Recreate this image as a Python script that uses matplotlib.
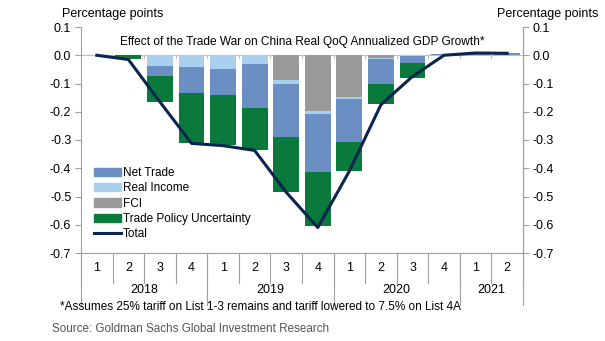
import numpy as np
import matplotlib
matplotlib.use("Agg")
import matplotlib.pyplot as plt
from matplotlib.patches import Patch
from matplotlib.lines import Line2D
import matplotlib.transforms as mtransforms

plt.rcParams['font.family'] = ['Liberation Sans', 'DejaVu Sans']

quarters = ["1", "2", "3", "4", "1", "2", "3", "4", "1", "2", "3", "4", "1", "2"]
years = ["2018", "2019", "2020", "2021"]
year_counts = [4, 4, 4, 2]

fci = [0, 0, 0, 0, 0, 0, -0.088, -0.198, -0.147, -0.008, 0, 0, 0, 0]
real_income = [0, 0, -0.038, -0.041, -0.047, -0.030, -0.012, -0.009, -0.008, -0.007, -0.004, 0, 0, 0]
net_trade = [0, 0, -0.037, -0.094, -0.092, -0.156, -0.189, -0.205, -0.151, -0.085, -0.022, 0.004, 0.008, 0.008]
tpu = [0, -0.014, -0.091, -0.174, -0.179, -0.150, -0.194, -0.194, -0.104, -0.074, -0.053, 0, 0, 0]
total = [0, -0.015, -0.165, -0.312, -0.320, -0.337, -0.485, -0.610, -0.410, -0.175, -0.075, 0.0, 0.008, 0.007]

c_net = "#6b8fc2"
c_ri = "#a9d0ee"
c_fci = "#9a9a9a"
c_tpu = "#0a7a3c"
c_tot = "#0c2450"

fig = plt.figure(figsize=(6.05, 3.41), dpi=100)
ax = fig.add_axes([81/605, 1-253/341, (523-81)/605, (253-27)/341])

x = np.arange(len(quarters))
pos_base = np.zeros(len(x))
neg_base = np.zeros(len(x))
series = [(fci, c_fci), (real_income, c_ri), (net_trade, c_net), (tpu, c_tpu)]
for vals, col in series:
    v = np.array(vals, dtype=float)
    base = np.where(v >= 0, pos_base, neg_base)
    ax.bar(x, v, bottom=base, width=0.82, color=col, linewidth=0, zorder=2)
    pos_base += np.where(v >= 0, v, 0)
    neg_base += np.where(v < 0, v, 0)

ax.plot(x, total, color=c_tot, lw=2.2, zorder=3)
ax.axhline(0, color="#bfbfbf", lw=0.8, zorder=1)

ax.set_xlim(-0.5, len(x) - 0.5)
ax.set_ylim(-0.7, 0.1)
yt = np.round(np.arange(-0.7, 0.101, 0.1), 1)
ylabels = ["0.0" if abs(v) < 1e-9 else f"{v:.1f}" for v in yt]
ax.set_yticks(yt)
ax.set_yticklabels(ylabels, fontsize=9)
ax.set_xticks([])
ax.spines['top'].set_visible(False)
for s in ['left', 'right', 'bottom']:
    ax.spines[s].set_color("#a0a0a0")
    ax.spines[s].set_linewidth(0.8)
ax.tick_params(axis='y', direction='out', length=4, color="#a0a0a0", pad=3)

ax2 = ax.twinx()
ax2.set_ylim(-0.7, 0.1)
ax2.set_yticks(yt)
ax2.set_yticklabels(ylabels, fontsize=9)
for s in ['top', 'left', 'bottom']:
    ax2.spines[s].set_visible(False)
ax2.spines['right'].set_color("#a0a0a0")
ax2.spines['right'].set_linewidth(0.8)
ax2.tick_params(axis='y', direction='out', length=4, color="#a0a0a0", pad=3)

for b in np.arange(-0.5, len(x), 1.0)[1:-1]:
    ax.plot([b, b], [0, -0.008], color="#bfbfbf", lw=0.8, zorder=1)

trans = mtransforms.blended_transform_factory(ax.transData, ax.transAxes)
ax_h = (253-27)
def ay(py):
    return (253 - py) / ax_h

for b in np.arange(-0.5, len(x) + 0.5, 1.0):
    ax.plot([b, b], [0, ay(283)], color="#a0a0a0", lw=0.8, transform=trans, clip_on=False)
bounds = np.concatenate([[0], np.cumsum(year_counts)]) - 0.5
for b in bounds:
    ax.plot([b, b], [0, ay(305)], color="#a0a0a0", lw=0.8, transform=trans, clip_on=False)
for xi, q in zip(x, quarters):
    ax.text(xi, ay(268), q, transform=trans, ha='center', va='center', fontsize=9)
for i, yr in enumerate(years):
    ax.text((bounds[i] + bounds[i+1]) / 2, ay(290), yr, transform=trans, ha='center', va='center', fontsize=9)

ax.text(0.5, ay(42), "Effect of the Trade War on China Real QoQ Annualized GDP Growth*",
        transform=ax.transAxes, ha='center', va='center', fontsize=8.6)

fig.text(62/605, 1-14/341, "Percentage points", ha='left', va='center', fontsize=9)
fig.text(598/605, 1-14/341, "Percentage points", ha='right', va='center', fontsize=9)
fig.text(60/605, 1-307/341, "*Assumes 25% tariff on List 1-3 remains and tariff lowered to 7.5% on List 4A",
         ha='left', va='center', fontsize=8.5)
fig.text(52/605, 1-329/341, "Source: Goldman Sachs Global Investment Research",
         ha='left', va='center', fontsize=8.4, color="#555555")

handles = [Patch(color=c_net, label="Net Trade"),
           Patch(color=c_ri, label="Real Income"),
           Patch(color=c_fci, label="FCI"),
           Patch(color=c_tpu, label="Trade Policy Uncertainty"),
           Line2D([0], [0], color=c_tot, lw=2.2, label="Total")]
ax.legend(handles=handles, loc='lower left', bbox_to_anchor=(0.01, 0.02), frameon=False,
          fontsize=8.5, handlelength=2.3, handleheight=0.7, labelspacing=0.28,
          borderaxespad=0.3, handletextpad=0.2)

fig.savefig("out.png", dpi=100)
